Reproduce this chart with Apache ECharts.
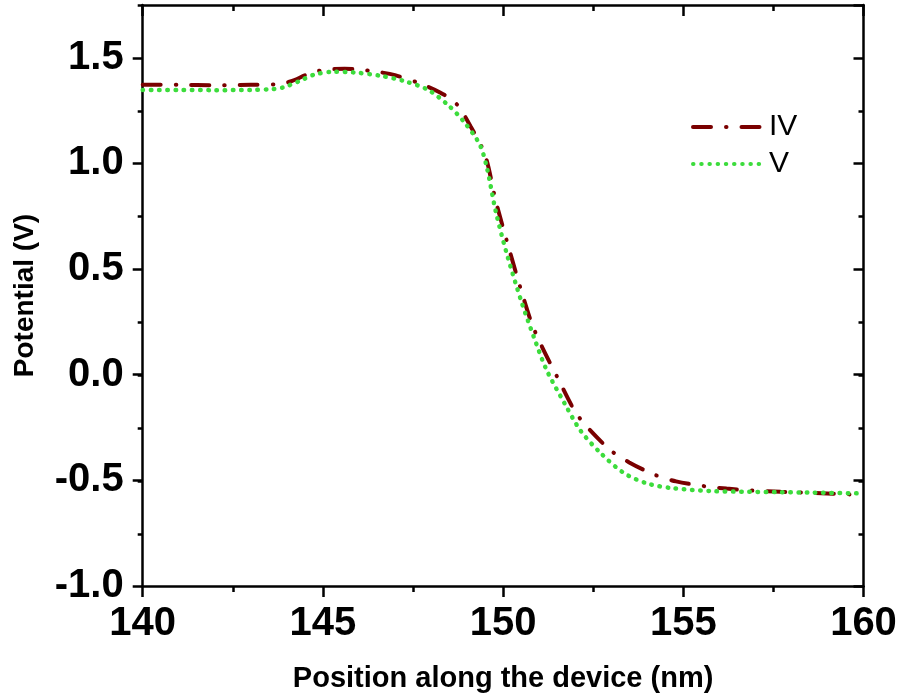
<!DOCTYPE html>
<html>
<head>
<meta charset="utf-8">
<script src="https://cdn.jsdelivr.net/npm/echarts@6/dist/echarts.min.js"></script>
<style>html,body{margin:0;padding:0;background:#fff;}#c{width:902px;height:698px;}</style>
</head>
<body>
<div id="c"></div>
<script>
var xIV = [140.0,141.0,142.0,143.0,143.7,144.1,144.6,145.0,145.6,146.0,146.5,147.0,147.7,148.25,148.7,149.1,149.5,149.8,150.2,150.5,150.8,151.1,151.5,152.0,152.4,153.0,153.5,154.2,154.8,155.6,156.2,156.9,157.7,158.6,159.7,160.0];
var yIV = [1.372,1.372,1.370,1.372,1.375,1.388,1.424,1.442,1.448,1.444,1.434,1.418,1.378,1.336,1.283,1.175,1.04,0.82,0.575,0.40,0.24,0.125,-0.01,-0.175,-0.26,-0.36,-0.415,-0.473,-0.505,-0.528,-0.539,-0.548,-0.554,-0.559,-0.567,-0.568];
var xV = [140.0,141.0,142.0,143.0,143.6,143.9,144.35,144.75,145.3,145.85,146.6,147.25,147.9,148.45,148.9,149.35,149.55,149.8,150.1,150.5,150.85,151.2,151.7,152.15,152.7,153.35,154.0,154.7,155.8,156.8,157.7,158.6,160.0];
var yV = [1.348,1.348,1.347,1.348,1.352,1.36,1.39,1.42,1.434,1.431,1.415,1.39,1.35,1.28,1.2,1.09,0.98,0.77,0.574,0.35,0.18,0.025,-0.134,-0.265,-0.37,-0.465,-0.515,-0.537,-0.551,-0.554,-0.556,-0.558,-0.562];
var seriesNames = ['IV','V'];
var xTicks = {min:140, max:160, interval:5};
var yTicks = {min:-1.0, max:1.75, interval:0.5, minor:0.25};

function pairs(xs, ys){ return xs.map(function(x,i){ return [x, ys[i]]; }); }

var FONT = 'Liberation Sans, Arial, sans-serif';
var axisLine = {show:true, onZero:false, lineStyle:{color:'#000', width:2.5}};
var chart = echarts.init(document.getElementById('c'));
var grid = {left:142.7, right:38.5, top:5, bottom:111.3, containLabel:false};
chart.setOption({
  backgroundColor:'#fff',
  animation:false,
  grid:[grid, Object.assign({}, grid)],
  legend:{
    data:seriesNames, orient:'vertical', left:691, top:112, padding:0,
    itemWidth:71, itemHeight:20, itemGap:7,
    itemStyle:{opacity:0},
    lineStyle:{width:4, cap:'round'},
    textStyle:{fontFamily:FONT, fontSize:30, color:'#000', lineHeight:30}
  },
  xAxis:[
    {type:'value', gridIndex:0, position:'bottom', min:xTicks.min, max:xTicks.max, interval:xTicks.interval,
     axisLine:axisLine, splitLine:{show:false},
     axisTick:{show:true, inside:false, length:11, lineStyle:{color:'#000', width:2.5}},
     minorTick:{show:true, splitNumber:2, length:6, lineStyle:{color:'#000', width:2.5}},
     axisLabel:{show:true, margin:18, color:'#000', fontFamily:FONT, fontWeight:'bold', fontSize:40},
     name:'Position along the device (nm)', nameLocation:'middle', nameGap:78,
     nameTextStyle:{fontFamily:FONT, fontWeight:'bold', fontSize:29, color:'#000'}},
    {type:'value', gridIndex:0, position:'top', min:xTicks.min, max:xTicks.max, interval:xTicks.interval,
     axisLine:axisLine, splitLine:{show:false},
     axisTick:{show:true, inside:true, length:11, lineStyle:{color:'#000', width:2.5}},
     minorTick:{show:true, splitNumber:2, length:6, lineStyle:{color:'#000', width:2.5}},
     axisLabel:{show:false}},
    {type:'value', gridIndex:1, min:xTicks.min, max:xTicks.max, show:false}
  ],
  yAxis:[
    {type:'value', gridIndex:0, position:'left', min:yTicks.min, max:yTicks.max, interval:yTicks.interval,
     axisLine:axisLine, splitLine:{show:false},
     axisTick:{show:true, inside:false, length:10, lineStyle:{color:'#000', width:2.5}},
     axisLabel:{show:true, margin:19, color:'#000', fontFamily:FONT, fontWeight:'bold', fontSize:40,
       showMaxLabel:false,
       formatter:function(v){ return Math.abs(v/0.5 - Math.round(v/0.5))<1e-6 ? v.toFixed(1) : ''; }},
     name:'Potential (V)', nameLocation:'middle', nameGap:103,
     nameTextStyle:{fontFamily:FONT, fontWeight:'bold', fontSize:28, color:'#000'}},
    {type:'value', gridIndex:0, position:'right', min:yTicks.min, max:yTicks.max, interval:yTicks.interval,
     axisLine:axisLine, splitLine:{show:false},
     axisTick:{show:true, inside:true, length:10, lineStyle:{color:'#000', width:2.5}},
     axisLabel:{show:false}},
    {type:'value', gridIndex:1, position:'left', min:yTicks.min, max:yTicks.max, interval:yTicks.minor,
     axisLine:{show:false, onZero:false}, splitLine:{show:false},
     axisTick:{show:true, inside:false, length:5, lineStyle:{color:'#000', width:2.5}},
     axisLabel:{show:false}},
    {type:'value', gridIndex:1, position:'right', min:yTicks.min, max:yTicks.max, interval:yTicks.minor,
     axisLine:{show:false, onZero:false}, splitLine:{show:false},
     axisTick:{show:true, inside:true, length:5, lineStyle:{color:'#000', width:2.5}},
     axisLabel:{show:false}}
  ],
  series:[
    {name:seriesNames[0], type:'line', xAxisIndex:0, yAxisIndex:0, data:pairs(xIV,yIV),
     showSymbol:false, symbol:'none', smooth:0.3, z:3,
     itemStyle:{color:'#7A0000'},
     lineStyle:{color:'#7A0000', width:4, type:[18,15,0.5,15], cap:'round'}},
    {name:seriesNames[1], type:'line', xAxisIndex:0, yAxisIndex:0, data:pairs(xV,yV),
     showSymbol:false, symbol:'none', smooth:0.3, z:4,
     itemStyle:{color:'#3CDC3C'},
     lineStyle:{color:'#3CDC3C', width:4.5, type:[0.5,7.7], cap:'round'}}
  ]
});
</script>
</body>
</html>
